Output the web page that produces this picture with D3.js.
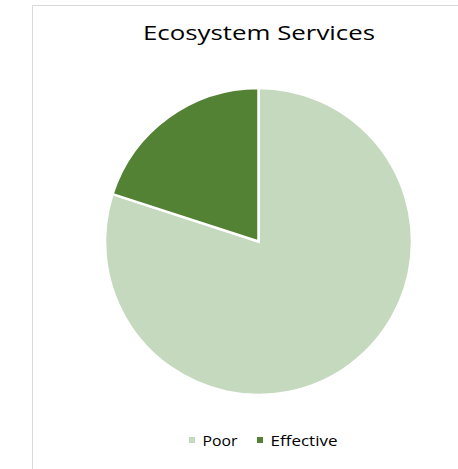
<!DOCTYPE html>
<html><head><meta charset="utf-8">
<script src="https://cdn.jsdelivr.net/npm/d3@7"></script>
<style>body{margin:0;background:#fff}svg{display:block}</style>
</head><body>
<script>
const categories = ["Poor", "Effective"];
const values = [80, 20];
const colors = ["#C5D9BE", "#548235"];
const title = "Ecosystem Services";

const W = 458, H = 469;
const svg = d3.select("body").append("svg").attr("width", W).attr("height", H);

// chart border
svg.append("path").attr("d", `M32.5,${H} V5.5 H${W}`)
  .attr("fill", "none").attr("stroke", "#D9D9D9").attr("stroke-width", 1);

const font = "'Open Sans', sans-serif";

svg.append("text").attr("x", 259).attr("y", 39.5).attr("text-anchor", "middle")
  .attr("font-family", font).attr("font-size", 19.5).attr("fill", "#000")
  .attr("textLength", 232).attr("lengthAdjust", "spacingAndGlyphs")
  .text(title);

const cx = 258.5, cy = 241.5, r = 153.5;
const pie = d3.pie().sort(null).value(d => d.v);
const arc = d3.arc().innerRadius(0).outerRadius(r);
const data = categories.map((c, i) => ({c, v: values[i], col: colors[i]}));
const g = svg.append("g").attr("transform", `translate(${cx},${cy})`);
g.selectAll("path").data(pie(data)).join("path")
  .attr("d", arc).attr("fill", d => d.data.col)
  .attr("stroke", "#fff").attr("stroke-width", 2.5).attr("stroke-linejoin", "miter");

// legend
const legX = [189, 257];
const legW = [35, 67];
const lg = svg.append("g");
data.forEach((d, i) => {
  lg.append("rect").attr("x", legX[i]).attr("y", 437).attr("width", 6).attr("height", 6).attr("fill", d.col);
  lg.append("text").attr("x", legX[i] + 13.5).attr("y", 445.5)
    .attr("font-family", font).attr("font-size", 15).attr("fill", "#000")
    .attr("textLength", legW[i]).attr("lengthAdjust", "spacingAndGlyphs")
    .text(d.c);
});
</script>
</body></html>
